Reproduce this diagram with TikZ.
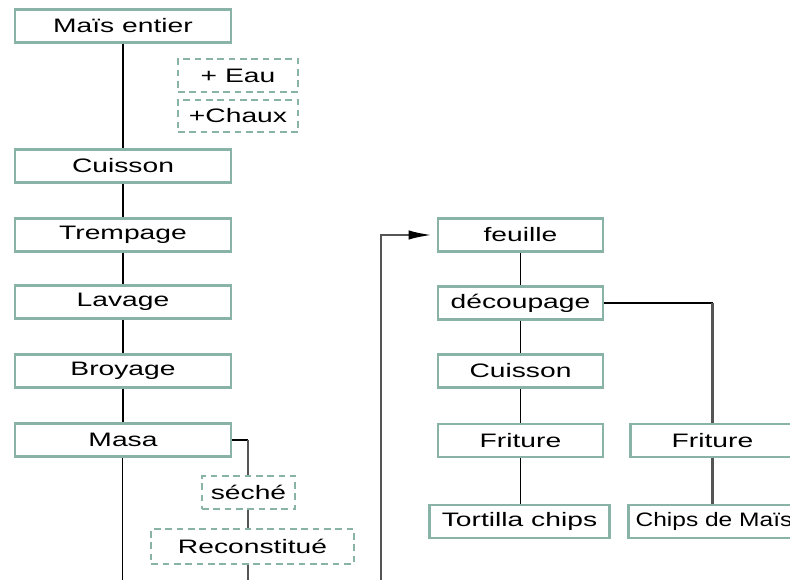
\documentclass[tikz,border=0pt]{standalone}
\usepackage{fontspec}
\setmainfont{Liberation Sans}[FakeStretch=1.45]
\newfontfamily\narrowsans{Liberation Sans}[FakeStretch=1.26]
\usetikzlibrary{arrows.meta}
\definecolor{boxteal}{RGB}{138,179,168}
\definecolor{linegray}{RGB}{85,85,85}

\begin{document}
\begin{tikzpicture}[x = 0.75pt, y = -0.75pt,
    stage/.style = {draw = boxteal, line width = 1.8pt, fill = white, inner sep = 0pt,
        minimum width = 162pt, minimum height = 24.5pt, font = \fontsize{14.6}{16}\selectfont},
    addin/.style = {stage, line width = 1.3pt, dash pattern = on 5pt off 3.5pt},
    flow/.style = {draw = black, line width = 1.2pt},
    branch/.style = {draw = linegray, line width = 2pt}]
    \useasboundingbox (0,0) rectangle (790,580);
    % left column
    \node [stage] (Mais) at (123,26) {Maïs entier};
    \node [addin, minimum width = 90pt] (Eau) at (238,75.5) {+ Eau};
    \node [addin, minimum width = 90pt] (Chaux) at (238,116) {+Chaux};
    \node [stage] (Cuis) at (123,166) {Cuisson};
    \node [stage] (Tremp) at (123,235) {Trempage};
    \node [stage] (Lav) at (123,302) {Lavage};
    \node [stage] (Broy) at (123,371) {Broyage};
    \node [stage] (Masa) at (123,440) {Masa};
    \node [addin, minimum width = 70pt] (Seche) at (248.5,492.5) {séché};
    \node [addin, minimum width = 152pt, minimum height = 26pt] (Recon) at (252.5,546.5) {Reconstitué};
    % right column
    \node [stage, minimum width = 124pt] (Feuille) at (520.5,235) {feuille};
    \node [stage, minimum width = 124pt] (Decoup) at (520.5,303) {découpage};
    \node [stage, minimum width = 124pt] (CuisB) at (520.5,371) {Cuisson};
    \node [stage, minimum width = 124pt] (Frit) at (520.5,440.5) {Friture};
    \node [stage, minimum width = 135pt] (Tort) at (519.5,521.5) {Tortilla chips};
    \node [stage, minimum width = 123pt] (FritB) at (712.5,440.5) {Friture};
    \node [stage, minimum width = 128pt, font = \fontsize{14.6}{16}\narrowsans] (Chips) at (714,521.5) {Chips de Maïs};
    \coordinate (EndA) at (122.5,580);
    \coordinate (EndB) at (248,580);
    \coordinate (EndC) at (381,580);

    \draw [flow] (Mais) -- (Cuis) -- (Tremp) -- (Lav) -- (Broy) -- (Masa);
    \draw [flow] (Masa.south -| EndA) -- (EndA);
    \draw [flow] (Masa.east) -- (Masa.east -| EndB);
    \draw [branch] (Masa.east -| EndB) -- (Seche.north -| EndB);
    \draw [branch] (Seche.south -| EndB) -- (Recon.north -| EndB);
    \draw [branch] (Recon.south -| EndB) -- (EndB);
    \draw [branch, -{Latex[black, length = 18pt, width = 7pt]}] (EndC) |- ([xshift = -3pt] Feuille.west);
    \draw [flow] (Feuille) -- (Decoup) -- (CuisB) -- (Frit);
    \draw [flow] (Frit.south) -- (Frit.south |- Tort.north);
    \draw [flow] (Decoup.east) -- (Decoup.east -| FritB);
    \draw [branch] (Decoup.east -| FritB) -- (FritB.north);
    \draw [branch] (FritB.south) -- (FritB.south |- Chips.north);
\end{tikzpicture}
\end{document}
